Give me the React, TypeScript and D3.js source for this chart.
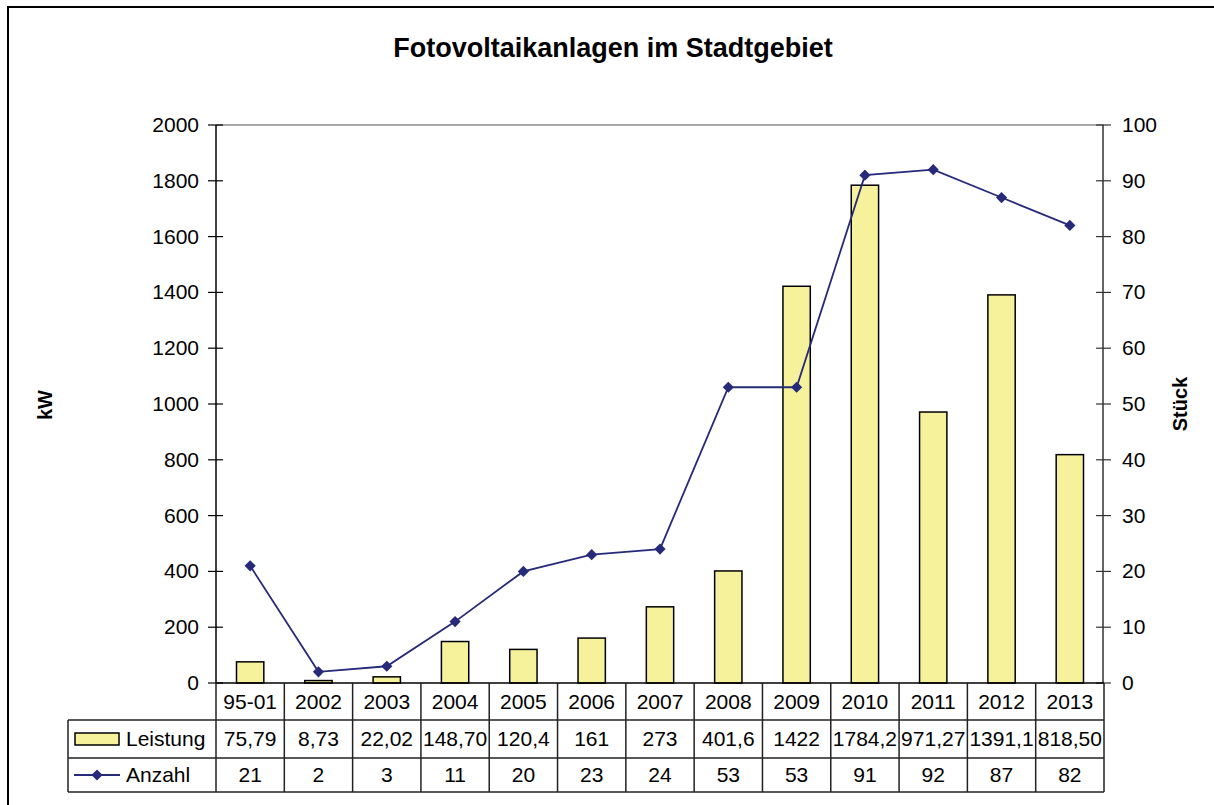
import { useEffect, useRef } from "react";
import * as d3 from "d3";

const categories = ["95-01", "2002", "2003", "2004", "2005", "2006", "2007", "2008", "2009", "2010", "2011", "2012", "2013"];
const leistung = [75.79, 8.73, 22.02, 148.7, 120.4, 161, 273, 401.6, 1422, 1784.2, 971.27, 1391.1, 818.5];
const leistungLabels = ["75,79", "8,73", "22,02", "148,70", "120,4", "161", "273", "401,6", "1422", "1784,2", "971,27", "1391,1", "818,50"];
const anzahl = [21, 2, 3, 11, 20, 23, 24, 53, 53, 91, 92, 87, 82];
const leftTicks = [0, 200, 400, 600, 800, 1000, 1200, 1400, 1600, 1800, 2000];
const rightTicks = [0, 10, 20, 30, 40, 50, 60, 70, 80, 90, 100];

const FONT = "Arial, 'Liberation Sans', sans-serif";
const BAR_FILL = "#f6f29c";
const LINE_COLOR = "#262a78";
const FS = "21px";

const App = () => {
  const ref = useRef<SVGSVGElement>(null);

  useEffect(() => {
    const width = 1214;
    const height = 805;
    const left = 216;
    const right = 1104;
    const top = 125;
    const bottom = 683;
    const tableLeft = 68;
    const rowLines = [bottom, 720, 758, 792];

    const svg = d3.select(ref.current).attr("width", width).attr("height", height);
    svg.selectAll("*").remove();

    svg.append("rect").attr("width", width).attr("height", height).attr("fill", "#fff");

    // outer frame (top and left edges visible)
    svg.append("path")
      .attr("d", `M8,${height} L8,7 L${width},7`)
      .attr("fill", "none")
      .attr("stroke", "#000")
      .attr("stroke-width", 2);

    svg.append("text")
      .attr("x", 613)
      .attr("y", 57)
      .attr("text-anchor", "middle")
      .style("font-family", FONT)
      .style("font-size", "27px")
      .style("font-weight", "700")
      .text("Fotovoltaikanlagen im Stadtgebiet");

    const x = d3.scaleBand().domain(categories).range([left, right]);
    const y = d3.scaleLinear().domain([0, 2000]).range([bottom, top]);
    const y2 = d3.scaleLinear().domain([0, 100]).range([bottom, top]);

    // plot top border
    svg.append("line")
      .attr("x1", left).attr("x2", right)
      .attr("y1", top).attr("y2", top)
      .attr("stroke", "#8c8c8c")
      .attr("stroke-width", 1.5);

    const barW = x.bandwidth() * 0.4;
    svg.append("g")
      .selectAll("rect")
      .data(leistung)
      .enter()
      .append("rect")
      .attr("x", (d, i) => (x(categories[i]) as number) + (x.bandwidth() - barW) / 2)
      .attr("y", (d) => y(d))
      .attr("width", barW)
      .attr("height", (d) => bottom - y(d))
      .attr("fill", BAR_FILL)
      .attr("stroke", "#000")
      .attr("stroke-width", 1.5);

    // left axis
    const gl = svg.append("g");
    gl.append("line")
      .attr("x1", left).attr("x2", left)
      .attr("y1", top).attr("y2", bottom)
      .attr("stroke", "#000").attr("stroke-width", 1.5);
    leftTicks.forEach((t) => {
      gl.append("line")
        .attr("x1", left - 8).attr("x2", left + 7)
        .attr("y1", y(t)).attr("y2", y(t))
        .attr("stroke", "#000").attr("stroke-width", 1.2);
      gl.append("text")
        .attr("x", left - 17)
        .attr("y", y(t) + 7)
        .attr("text-anchor", "end")
        .style("font-family", FONT)
        .style("font-size", FS)
        .text(t);
    });

    // right axis
    const gr = svg.append("g");
    gr.append("line")
      .attr("x1", right - 1).attr("x2", right - 1)
      .attr("y1", top).attr("y2", bottom)
      .attr("stroke", "#333").attr("stroke-width", 1.5);
    rightTicks.forEach((t) => {
      gr.append("line")
        .attr("x1", right - 8).attr("x2", right + 7)
        .attr("y1", y2(t)).attr("y2", y2(t))
        .attr("stroke", "#333").attr("stroke-width", 1.2);
      gr.append("text")
        .attr("x", right + 18)
        .attr("y", y2(t) + 7)
        .attr("text-anchor", "start")
        .style("font-family", FONT)
        .style("font-size", FS)
        .text(t);
    });

    svg.append("text")
      .attr("transform", `translate(52, 405) rotate(-90)`)
      .attr("text-anchor", "middle")
      .style("font-family", FONT)
      .style("font-size", "20px")
      .style("font-weight", "700")
      .text("kW");

    svg.append("text")
      .attr("transform", `translate(1187, 404) rotate(-90)`)
      .attr("text-anchor", "middle")
      .style("font-family", FONT)
      .style("font-size", "20px")
      .style("font-weight", "700")
      .text("Stück");

    // line series
    const cx = (i: number) => (x(categories[i]) as number) + x.bandwidth() / 2;
    const line = d3.line<number>().x((d, i) => cx(i)).y((d) => y2(d));
    svg.append("path")
      .attr("d", line(anzahl))
      .attr("fill", "none")
      .attr("stroke", LINE_COLOR)
      .attr("stroke-width", 1.8);
    const diamond = d3.symbol().type(d3.symbolDiamond2).size(80);
    svg.append("g")
      .selectAll("path")
      .data(anzahl)
      .enter()
      .append("path")
      .attr("d", diamond)
      .attr("transform", (d, i) => `translate(${cx(i)}, ${y2(d)})`)
      .attr("fill", LINE_COLOR);

    // data table
    const tbl = svg.append("g");
    const stroke = "#222";
    rowLines.forEach((ry, k) => {
      tbl.append("line")
        .attr("x1", k === 0 ? left : tableLeft).attr("x2", right)
        .attr("y1", ry).attr("y2", ry)
        .attr("stroke", k === 0 ? "#000" : stroke).attr("stroke-width", 1.5);
    });
    tbl.append("line")
      .attr("x1", tableLeft).attr("x2", tableLeft)
      .attr("y1", rowLines[1]).attr("y2", rowLines[3])
      .attr("stroke", stroke).attr("stroke-width", 1.5);
    [...categories.map((c) => x(c) as number), right].forEach((bx) => {
      tbl.append("line")
        .attr("x1", bx).attr("x2", bx)
        .attr("y1", bottom).attr("y2", rowLines[3])
        .attr("stroke", stroke).attr("stroke-width", 1.5);
    });

    const rows = [categories, leistungLabels, anzahl.map(String)];
    rows.forEach((vals, r) => {
      const ty = (rowLines[r] + rowLines[r + 1]) / 2 + 7;
      tbl.selectAll(null)
        .data(vals)
        .enter()
        .append("text")
        .attr("x", (d, i) => cx(i))
        .attr("y", ty)
        .attr("text-anchor", "middle")
        .style("font-family", FONT)
        .style("font-size", FS)
        .text((d) => d);
    });

    // legend keys in the table
    const ly1 = (rowLines[1] + rowLines[2]) / 2;
    tbl.append("rect")
      .attr("x", 75).attr("y", ly1 - 6)
      .attr("width", 44).attr("height", 12)
      .attr("fill", BAR_FILL)
      .attr("stroke", "#000").attr("stroke-width", 1.5);
    tbl.append("text")
      .attr("x", 126).attr("y", ly1 + 7)
      .style("font-family", FONT)
      .style("font-size", FS)
      .text("Leistung");

    const ly2 = (rowLines[2] + rowLines[3]) / 2;
    tbl.append("line")
      .attr("x1", 74).attr("x2", 120)
      .attr("y1", ly2).attr("y2", ly2)
      .attr("stroke", LINE_COLOR).attr("stroke-width", 1.8);
    tbl.append("path")
      .attr("d", diamond)
      .attr("transform", `translate(97, ${ly2})`)
      .attr("fill", LINE_COLOR);
    tbl.append("text")
      .attr("x", 126).attr("y", ly2 + 7)
      .style("font-family", FONT)
      .style("font-size", FS)
      .text("Anzahl");
  }, []);

  return (
    <div style={{ position: "absolute", left: 0, top: 0 }}>
      <svg ref={ref}></svg>
    </div>
  );
};

export default App;
